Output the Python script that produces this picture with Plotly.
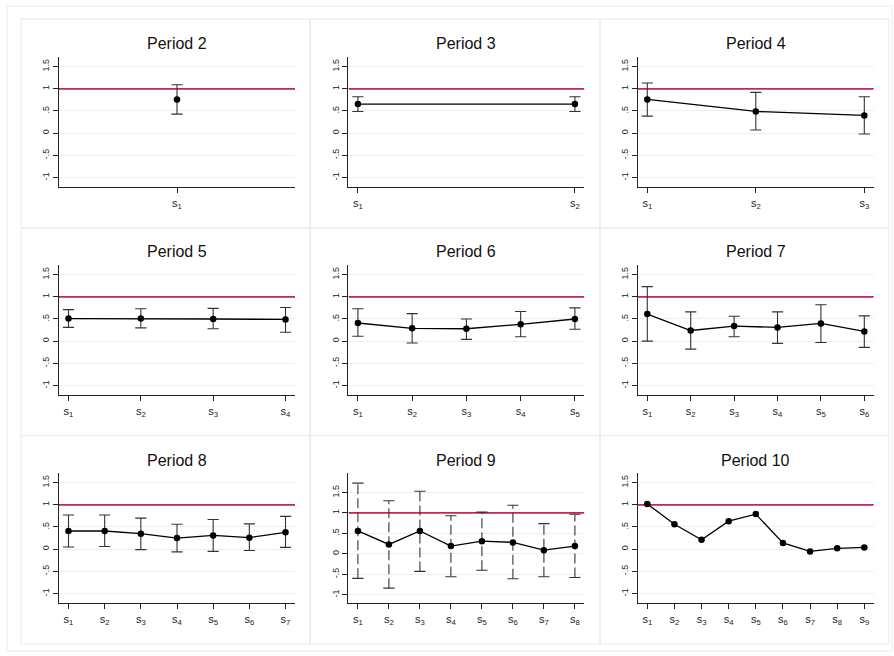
import plotly.graph_objects as go

# ---------------- data ----------------
titles = ["Period 2", "Period 3", "Period 4", "Period 5", "Period 6",
          "Period 7", "Period 8", "Period 9", "Period 10"]

p2_est = [0.76]
p2_lo = [0.43]
p2_hi = [1.09]

p3_est = [0.655, 0.655]
p3_lo = [0.49, 0.49]
p3_hi = [0.82, 0.82]

p4_est = [0.76, 0.49, 0.40]
p4_lo = [0.385, 0.07, -0.02]
p4_hi = [1.13, 0.92, 0.82]

p5_est = [0.51, 0.51, 0.50, 0.49]
p5_lo = [0.31, 0.30, 0.28, 0.20]
p5_hi = [0.71, 0.73, 0.74, 0.76]

p6_est = [0.41, 0.29, 0.28, 0.38, 0.50]
p6_lo = [0.11, -0.04, 0.04, 0.10, 0.27]
p6_hi = [0.73, 0.62, 0.50, 0.67, 0.75]

p7_est = [0.61, 0.24, 0.34, 0.31, 0.40, 0.22]
p7_lo = [0.00, -0.18, 0.10, -0.05, -0.03, -0.14]
p7_hi = [1.23, 0.66, 0.56, 0.66, 0.82, 0.57]

p8_est = [0.41, 0.41, 0.35, 0.25, 0.31, 0.26, 0.38]
p8_lo = [0.05, 0.06, -0.01, -0.06, -0.05, -0.03, 0.04]
p8_hi = [0.77, 0.77, 0.70, 0.56, 0.67, 0.57, 0.74]

p9_est = [0.56, 0.23, 0.56, 0.19, 0.31, 0.28, 0.09, 0.19]
p9_lo = [-0.60, -0.84, -0.43, -0.56, -0.40, -0.61, -0.56, -0.58]
p9_hi = [1.73, 1.30, 1.53, 0.93, 1.02, 1.19, 0.74, 0.97]

p10_est = [1.02, 0.56, 0.21, 0.63, 0.79, 0.14, -0.05, 0.02, 0.04]
p10_lo = None
p10_hi = None

y_ticks = [-1, -0.5, 0, 0.5, 1, 1.5]
y_tick_labels = ["-1", "-.5", "0", ".5", "1", "1.5"]
ref_value = 1

panels = [
    (p2_est, p2_lo, p2_hi), (p3_est, p3_lo, p3_hi), (p4_est, p4_lo, p4_hi),
    (p5_est, p5_lo, p5_hi), (p6_est, p6_lo, p6_hi), (p7_est, p7_lo, p7_hi),
    (p8_est, p8_lo, p8_hi), (p9_est, p9_lo, p9_hi), (p10_est, p10_lo, p10_hi),
]
dashed_panel = 7  # Period 9 uses dashed intervals

# ---------------- styling / geometry ----------------
W, H = 894, 656
FONT = "Liberation Sans, Arial, Helvetica, sans-serif"
BORDER = "#e4ecee"
GRID = "#e8f0f1"
RED = "#c8264c"
AXIS = "#222222"

PLOT_W = 236.0
PLOT_H = 130.0
PAD_PX = 9.5

fig = go.Figure()
layout_axes = {}
annotations = []
shapes = []

for k, (est, lo, hi) in enumerate(panels):
    r, c = divmod(k, 3)
    ax = "" if k == 0 else str(k + 1)
    xref, yref = "x" + ax, "y" + ax
    n = len(est)
    xs = list(range(1, n + 1))

    x0 = 59 + 289.4 * c
    x1 = x0 + PLOT_W
    ytop = 57.3 + 208.0 * r
    ybot = ytop + PLOT_H

    if n == 1:
        xr = [0, 2]
    else:
        pu = (n - 1) * PAD_PX / (PLOT_W - 2 * PAD_PX)
        xr = [1 - pu, n + pu]
    yr = [-1.21, 1.97] if k == dashed_panel else [-1.22, 1.71]

    # reference line at 1 (drawn first, beneath the data)
    fig.add_trace(go.Scatter(
        x=xr, y=[ref_value, ref_value], mode="lines", xaxis=xref, yaxis=yref,
        line=dict(color=RED, width=1.7), hoverinfo="skip", showlegend=False,
        cliponaxis=False))

    # intervals
    if lo is not None:
        sx, sy = [], []
        for xi, a, b in zip(xs, lo, hi):
            sx += [xi, xi, None]
            sy += [a, b, None]
        fig.add_trace(go.Scatter(
            x=sx, y=sy, mode="lines", xaxis=xref, yaxis=yref,
            line=dict(color="#333333", width=1.1,
                      dash="10px,4px" if k == dashed_panel else "solid"),
            hoverinfo="skip", showlegend=False))
        fig.add_trace(go.Scatter(
            x=xs + xs, y=list(lo) + list(hi), mode="markers",
            xaxis=xref, yaxis=yref,
            marker=dict(symbol="line-ew-open", size=8, color="#333333",
                        line=dict(color="#333333", width=1.1)),
            hoverinfo="skip", showlegend=False))

    # estimates
    fig.add_trace(go.Scatter(
        x=xs, y=est, mode="lines+markers", xaxis=xref, yaxis=yref,
        line=dict(color="black", width=1.3),
        marker=dict(color="black", size=6.5),
        showlegend=False))

    layout_axes["xaxis" + ax] = dict(
        domain=[x0 / W, x1 / W], range=xr, anchor=yref,
        tickvals=xs, ticktext=[f"s<sub>{i}</sub>" for i in xs],
        showgrid=False, zeroline=False, showline=True, linecolor=AXIS,
        linewidth=1, ticks="outside", ticklen=5, tickcolor=AXIS,
        tickfont=dict(family=FONT, size=11, color="#222"), fixedrange=True)
    layout_axes["yaxis" + ax] = dict(
        domain=[1 - ybot / H, 1 - ytop / H], range=yr, anchor=xref,
        tickvals=y_ticks, ticktext=y_tick_labels, tickangle=-90,
        showgrid=True, gridcolor=GRID, gridwidth=1, zeroline=False,
        showline=True, linecolor=AXIS, linewidth=1, ticks="outside",
        ticklen=5, tickcolor=AXIS,
        tickfont=dict(family=FONT, size=9, color="#222"), fixedrange=True)

    annotations.append(dict(
        text=titles[k], xref="paper", yref="paper",
        x=(x0 + x1) / 2 / W, y=1 - (43 + 208.5 * r) / H,
        xanchor="center", yanchor="middle", showarrow=False,
        font=dict(family=FONT, size=16, color="#111")))

# panel boxes
cols = [21, 310, 600, 889]
rows = [19, 228, 435.5, 644]
for r in range(3):
    for c in range(3):
        shapes.append(dict(type="rect", xref="paper", yref="paper",
                           x0=cols[c] / W, x1=cols[c + 1] / W,
                           y0=1 - rows[r + 1] / H, y1=1 - rows[r] / H,
                           line=dict(color=BORDER, width=1), layer="below"))
# outer frame
shapes.append(dict(type="rect", xref="paper", yref="paper",
                   x0=7 / W, x1=892 / W, y0=1 - 651 / H, y1=1 - 6 / H,
                   line=dict(color=BORDER, width=1), layer="below"))

fig.update_layout(
    width=W, height=H, margin=dict(l=0, r=0, t=0, b=0),
    paper_bgcolor="white", plot_bgcolor="white",
    annotations=annotations, shapes=shapes, **layout_axes)

fig.write_html(
    "out.html",
    config={"displayModeBar": False},
    post_script="document.body.style.margin='0';"
                "document.body.style.overflow='hidden';")
